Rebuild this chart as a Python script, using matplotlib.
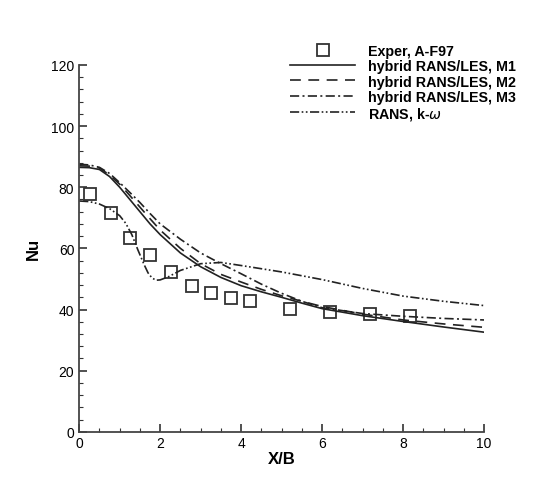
import numpy as np
import matplotlib
matplotlib.use("Agg")
import matplotlib.pyplot as plt
from matplotlib.ticker import MultipleLocator

plt.rcParams['font.family'] = ['Liberation Sans', 'DejaVu Sans']

# datos experimentales (A-F97)
exp_x = [0.27, 0.78, 1.26, 1.74, 2.27, 2.78, 3.25, 3.74, 4.22, 5.21, 6.2, 7.19, 8.17]
exp_nu = [77.7, 71.5, 63.4, 57.7, 52.2, 47.8, 45.3, 43.9, 42.7, 40.2, 39.1, 38.6, 38.0]

# curvas de simulacion
x_m = [0, 0.25, 0.5, 0.75, 1.0, 1.25, 1.5, 1.75, 2.0, 2.5, 3.0, 3.5, 4.0, 4.5, 5.0, 5.5, 6.0, 7.0, 8.0, 9.0, 10.0]
nu_m1 = [86.5, 86.4, 85.8, 83.5, 80.0, 76.0, 72.0, 68.0, 64.5, 58.5, 54.0, 50.5, 47.8, 45.8, 44.0, 42.1, 40.3, 38.0, 36.1, 34.3, 32.6]
nu_m2 = [87.0, 86.9, 86.3, 84.0, 81.0, 77.3, 73.5, 69.7, 66.0, 60.0, 55.0, 51.5, 49.0, 46.6, 44.5, 42.7, 41.0, 38.5, 36.6, 35.3, 34.2]
nu_m3 = [87.5, 87.3, 86.5, 84.5, 81.5, 78.3, 75.0, 71.4, 68.0, 63.0, 58.5, 55.0, 51.7, 48.3, 45.3, 42.7, 40.6, 38.7, 37.8, 37.1, 36.6]

x_rans = [0, 0.25, 0.5, 0.75, 1.0, 1.15, 1.3, 1.45, 1.6, 1.7, 1.8, 1.9, 2.0, 2.2, 2.5, 3.0, 3.5, 4.0, 5.0, 6.0, 7.0, 8.0, 9.0, 10.0]
nu_rans = [75.5, 75.3, 74.5, 73.0, 70.7, 68.2, 64.5, 59.5, 54.8, 52.0, 50.3, 49.6, 49.7, 50.7, 52.8, 55.0, 55.4, 54.4, 52.3, 49.8, 46.9, 44.4, 42.7, 41.3]

fig = plt.figure(figsize=(5.35, 4.81), dpi=100)
ax = fig.add_axes([0.148, 0.1, 0.757, 0.763])

lc = '#222222'
ax.plot(exp_x, exp_nu, 's', ms=9, mfc='none', mec='#333333', mew=1.3, label='Exper, A-F97')
ax.plot(x_m, nu_m1, '-', color=lc, lw=1.2, label='hybrid RANS/LES, M1')
ax.plot(x_m, nu_m2, color=lc, lw=1.2, linestyle=(0, (6.5, 4.5)), label='hybrid RANS/LES, M2')
ax.plot(x_m, nu_m3, color=lc, lw=1.2, linestyle=(0, (5.5, 2, 1.2, 2)), label='hybrid RANS/LES, M3')
ax.plot(x_rans, nu_rans, color=lc, lw=1.2, linestyle=(0, (5.5, 1.5, 1, 1.5, 1, 1.5)), label='RANS, k-$\\omega$')

ax.set_xlim(0, 10)
ax.set_ylim(0, 120)
ax.xaxis.set_major_locator(MultipleLocator(2))
ax.xaxis.set_minor_locator(MultipleLocator(0.5))
ax.yaxis.set_major_locator(MultipleLocator(20))
ax.yaxis.set_minor_locator(MultipleLocator(4))
ax.tick_params(which='both', direction='in', color='#333333', labelsize=10, width=1.2)
ax.tick_params(which='major', length=6)
ax.tick_params(which='minor', length=3, width=0.8)
ax.tick_params(axis='x', pad=3)
for s in ['top', 'right']:
    ax.spines[s].set_visible(False)
for s in ['left', 'bottom']:
    ax.spines[s].set_linewidth(1.3)
    ax.spines[s].set_color('#444444')

ax.set_xlabel('X/B', fontsize=12, fontweight='bold', labelpad=1)
ax.set_ylabel('Nu', fontsize=12, fontweight='bold', labelpad=7)

leg = ax.legend(loc='upper left', bbox_to_anchor=(0.542, 0.906), bbox_transform=fig.transFigure,
                frameon=False, handlelength=4.55, handletextpad=0.9, labelspacing=0.08,
                prop={'weight': 'bold', 'size': 10.3}, borderaxespad=0, borderpad=0)

fig.savefig('out.png', dpi=100)
